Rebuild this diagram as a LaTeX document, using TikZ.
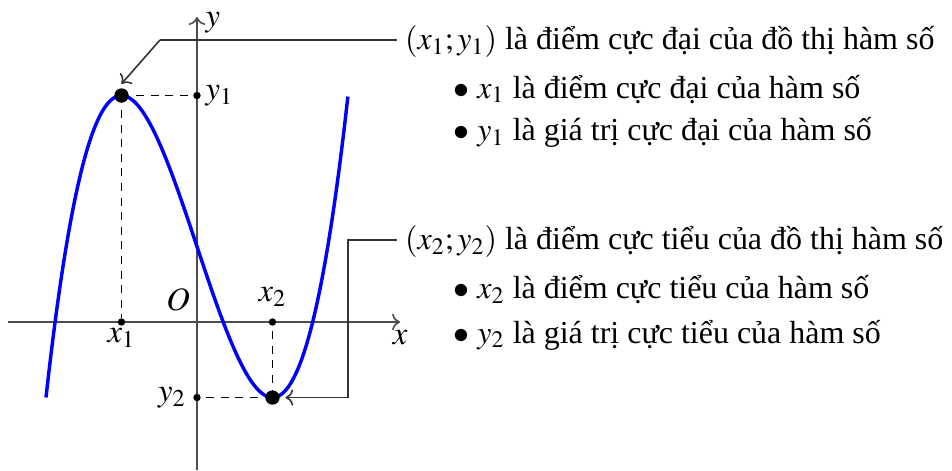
\documentclass[tikz,border=0pt]{standalone}
\usepackage{mathptmx}
\usepackage{fontspec}
\setmainfont{Liberation Serif}
\usetikzlibrary{arrows.meta}
\begin{document}
\begin{tikzpicture}[x=1cm,y=1cm,
  axis/.style={black!70, line width=0.6pt, -{To[length=3pt]}},
  curve/.style={blue, line width=1.3pt},
  guide/.style={black, line width=0.5pt, dash pattern=on 3pt off 2.5pt},
  smalldot/.style={circle, fill=black, inner sep=0pt, minimum size=2.8pt},
  bigdot/.style={circle, fill=black, inner sep=0pt, minimum size=5.4pt},
  callout/.style={black!80, line width=0.6pt},
  txt/.style={anchor=base west, inner sep=0pt, font=\fontsize{12.05}{14}\selectfont},
  lbl/.style={inner sep=0.5pt, font=\fontsize{12.3}{14}\selectfont}
]
\useasboundingbox (-2.609,-1.960) rectangle (10.0,4.265);
\coordinate (xs) at (-2.503,0); \coordinate (xe) at (2.689,0);
\coordinate (ys) at (0,-1.96); \coordinate (ye) at (0,4.04);
\draw[axis] (xs) -- (xe);
\draw[axis] (ys) -- (ye);
\node[lbl] (ylab) at (0.21,3.97) {$y$};
\node[lbl] (xlab) at (2.69,-0.2) {$x$};
\node[lbl] (O) at (-0.25,0.29) {$O$};
% dots
\node[smalldot] (px1) at (-1,0) {};
\node[smalldot] (px2) at (1,0) {};
\node[smalldot] (py1) at (0,3) {};
\node[smalldot] (py2) at (0,-1) {};
\draw[guide] (-1,3) -- (px1);
\draw[guide] (-1,3) -- (py1);
\draw[guide] (1,-1) -- (px2);
\draw[guide] (1,-1) -- (py2);
\draw[curve] plot[domain=-2:2, samples=120, smooth] (\x, {\x*\x*\x-3*\x+1});
\node[bigdot] (M) at (-1,3) {};
\node[bigdot] (N) at (1,-1) {};
\node[lbl] (lx1) at (-1,-0.21) {$x_1$};
\node[lbl] (lx2) at (1,0.33) {$x_2$};
\node[lbl] (ly1) at (0.3,3) {$y_1$};
\node[lbl] (ly2) at (-0.33,-1) {$y_2$};
% texts
\node[txt] (A) at (2.75,3.61) {$(x_1;y_1)$ là điểm cực đại của đồ thị hàm số};
\node[txt] (B) at (3.39,2.967) {$\bullet$ $x_1$ là điểm cực đại của hàm số};
\node[txt] (C) at (3.39,2.40) {$\bullet$ $y_1$ là giá trị cực đại của hàm số};
\node[txt] (D) at (2.75,0.96) {$(x_2;y_2)$ là điểm cực tiểu của đồ thị hàm số};
\node[txt] (E) at (3.39,0.31) {$\bullet$ $x_2$ là điểm cực tiểu của hàm số};
\node[txt] (F) at (3.39,-0.278) {$\bullet$ $y_2$ là giá trị cực tiểu của hàm số};
% callouts
\coordinate (k1) at (-0.49,3.735);
\draw[callout, shorten <=3pt] (A.west |- k1) -- (k1);
\draw[callout, ->] (k1) -- ([yshift=1.5pt]M.north);
\coordinate (k2) at (2,1.086);
\coordinate (k3) at (2,-1);
\draw[callout, ->, shorten <=3pt, shorten >=2pt] (D.west |- k2) -- (k2) -- (k3) -- (N);
\end{tikzpicture}
\end{document}
